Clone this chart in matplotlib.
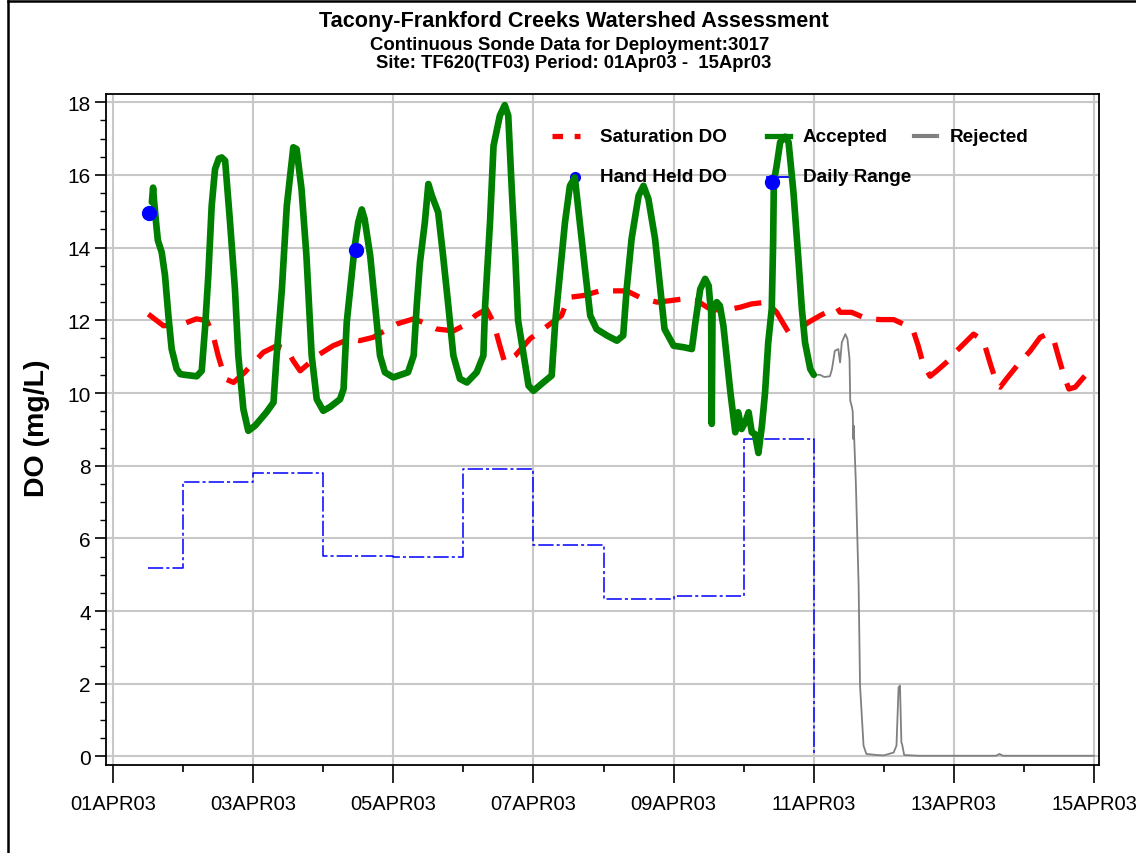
import matplotlib
matplotlib.use("Agg")
import matplotlib.pyplot as plt
from matplotlib.lines import Line2D
from matplotlib.ticker import MultipleLocator

plt.rcParams['font.family'] = ['Liberation Sans', 'DejaVu Sans']

# ---------------- data (days since 01APR03 00:00) ----------------
acc_days = [0.555, 0.572, 0.585, 0.614, 0.64, 0.695, 0.742, 0.79, 0.837, 0.908, 0.96, 1.027, 1.194,
            1.266, 1.312, 1.36, 1.408, 1.456, 1.51, 1.551, 1.6, 1.67, 1.74, 1.788, 1.86, 1.93, 2.027,
            2.19, 2.29, 2.335, 2.41, 2.48, 2.573, 2.62, 2.69, 2.76, 2.835, 2.907, 3.0, 3.1, 3.24,
            3.29, 3.335, 3.41, 3.45, 3.50, 3.55, 3.59, 3.67, 3.74, 3.81, 3.88, 4.0, 4.21, 4.29,
            4.334, 4.38, 4.45, 4.50, 4.55, 4.64, 4.71, 4.785, 4.857, 4.95, 5.05, 5.19, 5.285,
            5.31, 5.38, 5.43, 5.52, 5.59, 5.64, 5.69, 5.74, 5.78, 5.86, 5.93, 6.0, 6.14, 6.26,
            6.31, 6.38, 6.45, 6.52, 6.59, 6.66, 6.74, 6.81, 6.90, 7.05, 7.19, 7.28, 7.33, 7.40,
            7.50, 7.57, 7.64, 7.735, 7.81, 7.87, 8.0, 8.14, 8.26, 8.31, 8.38, 8.45, 8.50, 8.52,
            8.535, 8.544, 8.555, 8.57, 8.615, 8.66, 8.71, 8.76, 8.81, 8.85, 8.88, 8.92, 8.97,
            9.02, 9.07, 9.115, 9.16, 9.21, 9.26, 9.305, 9.35, 9.40, 9.42, 9.43, 9.47, 9.52, 9.59,
            9.64, 9.71, 9.78, 9.83, 9.875, 9.95, 10.0]
acc_vals = [15.25, 15.65, 15.3, 14.7, 14.2, 13.87, 13.23, 12.13, 11.21, 10.66, 10.52, 10.50, 10.46,
            10.61, 11.76, 13.23, 15.15, 16.16, 16.45, 16.48, 16.39, 14.70, 12.86, 11.03, 9.56, 8.96, 9.10,
            9.47, 9.74, 11.03, 12.86, 15.15, 16.76, 16.71, 15.61, 13.78, 11.03, 9.83, 9.51, 9.62, 9.83,
            10.11, 11.94, 13.32, 14.05, 14.70, 15.05, 14.79, 13.78, 12.40, 11.03, 10.57, 10.43, 10.57, 11.03,
            12.40, 13.59, 14.70, 15.75, 15.43, 14.97, 13.78, 12.40, 11.03, 10.39, 10.29, 10.57, 11.03,
            12.40, 14.70, 16.80, 17.63, 17.92, 17.63, 15.61, 13.78, 12.0, 11.03, 10.20, 10.06, 10.29, 10.48,
            11.94, 13.32, 14.70, 15.70, 15.93, 14.70, 13.32, 12.13, 11.76, 11.58, 11.44, 11.58, 12.86, 14.24,
            15.43, 15.70, 15.34, 14.24, 12.86, 11.76, 11.30, 11.26, 11.21, 11.94, 12.86, 13.14, 12.95, 12.50,
            12.4, 9.15, 12.3, 12.31, 12.50, 12.40, 11.85, 10.94, 10.02, 9.38, 8.92, 9.47, 9.01,
            9.19, 9.47, 8.92, 8.87, 8.35, 9.10, 10.02, 11.39, 12.31, 14.15, 15.80, 16.25, 16.90, 17.05,
            16.90, 15.52, 13.69, 12.31, 11.39, 10.66, 10.50]

rej_days = [10.0, 10.09, 10.15, 10.23, 10.26, 10.30, 10.35, 10.375, 10.40, 10.45, 10.48, 10.51, 10.52,
            10.54, 10.555, 10.565, 10.57, 10.60, 10.64, 10.66, 10.71, 10.75, 10.90, 11.0, 11.14, 11.18,
            11.21, 11.23, 11.25, 11.26, 11.29, 11.5, 12.0, 12.6, 12.65, 12.7, 13.0, 14.0]
rej_vals = [10.50, 10.50, 10.44, 10.46, 10.66, 11.16, 11.21, 10.84, 11.39, 11.62, 11.49, 10.94, 9.79,
            9.65, 9.5, 8.73, 9.10, 7.54, 4.70, 1.95, 0.30, 0.07, 0.04, 0.03, 0.11, 0.30,
            1.90, 1.95, 0.39, 0.34, 0.04, 0.02, 0.02, 0.02, 0.07, 0.02, 0.02, 0.02]

sat_days = [0.504, 0.72, 1.0, 1.19, 1.34, 1.43, 1.50, 1.6, 1.72, 1.88, 2.145, 2.335, 2.48, 2.57, 2.67,
            2.81, 2.95, 3.14, 3.38, 3.52, 3.71, 4.05, 4.29, 4.48, 4.62, 4.86, 5.05, 5.17, 5.33, 5.43,
            5.52, 5.59, 5.74, 5.95, 6.14, 6.40, 6.50, 6.71, 6.95, 7.33, 7.52, 7.76, 7.95, 8.14, 8.33,
            8.52, 8.71, 8.95, 9.11, 9.33, 9.47, 9.54, 9.64, 9.76, 9.92, 10.09, 10.33, 10.375, 10.54,
            10.76, 10.95, 11.14, 11.33, 11.42, 11.49, 11.56, 11.66, 11.755, 11.92, 12.04, 12.28, 12.42,
            12.52, 12.62, 12.66, 12.75, 12.90, 13.09, 13.23, 13.33, 13.42, 13.50, 13.57, 13.64, 13.73,
            13.85, 14.0]
sat_vals = [12.17, 11.85, 11.90, 12.04, 11.99, 11.58, 11.03, 10.39, 10.29, 10.57, 11.12, 11.30, 11.21, 10.89, 10.61,
            10.84, 11.07, 11.30, 11.49, 11.44, 11.53, 11.90, 12.04, 11.90, 11.76, 11.71, 11.90, 12.13, 12.31, 11.94,
            11.30, 10.84, 11.03, 11.49, 11.76, 12.13, 12.63, 12.68, 12.81, 12.81, 12.63, 12.50, 12.54, 12.59, 12.54,
            12.31, 12.27, 12.36, 12.45, 12.50, 12.22, 11.99, 11.67, 11.71, 11.94, 12.13, 12.36, 12.22, 12.22,
            12.04, 12.02, 12.02, 11.85, 11.71, 11.30, 10.80, 10.46, 10.61, 10.89, 11.16, 11.62, 11.44,
            10.80, 10.20, 10.16, 10.39, 10.75, 11.16, 11.53, 11.62, 11.49, 10.94, 10.48, 10.11, 10.16,
            10.43, 10.73]

range_days = [0.5, 1, 2, 3, 4, 5, 6, 7, 8, 9, 10]
range_vals = [5.18, 7.55, 7.80, 5.52, 5.48, 7.90, 5.83, 4.33, 4.42, 8.73, 0.0]

hand_days = [0.51, 3.47, 9.41]
hand_vals = [14.95, 13.93, 15.80]

xtick_days = [0, 2, 4, 6, 8, 10, 12, 14]
xtick_labels = ['01APR03', '03APR03', '05APR03', '07APR03', '09APR03', '11APR03', '13APR03', '15APR03']
ytick_vals = [0, 2, 4, 6, 8, 10, 12, 14, 16, 18]

# ---------------- figure ----------------
W, H = 1136, 854
fig = plt.figure(figsize=(W / 100, H / 100), dpi=100)
ax = fig.add_axes([106 / W, 1 - 766 / H, (1099 - 106) / W, (766 - 95) / H])

ax.grid(True, which='major', color='#c8c8c8', linewidth=1.5, zorder=0)
ax.set_axisbelow(True)

ax.plot(sat_days, sat_vals, color='#ff0000', linewidth=3.8, linestyle=(0, (5.2, 2.8)), zorder=3)
ax.step(range_days, range_vals, where='post', color='#0000ff', linewidth=1.1,
        linestyle=(0, (10, 2, 2, 2)), zorder=3)
ax.plot(rej_days, rej_vals, color='#808080', linewidth=1.3, zorder=3)
ax.plot(acc_days, acc_vals, color='#008000', linewidth=4.8, solid_joinstyle='round',
        solid_capstyle='round', zorder=4)
ax.plot(hand_days, hand_vals, linestyle='none', marker='o', markersize=10,
        color='#0000ff', zorder=5)

ax.set_xlim(-0.1, 14.07)
ax.set_ylim(-0.234, 18.226)
ax.set_xticks(xtick_days)
ax.set_xticklabels(xtick_labels)
ax.xaxis.set_minor_locator(MultipleLocator(1))
ax.set_yticks(ytick_vals)
ax.set_yticklabels([str(v) for v in ytick_vals])
ax.yaxis.set_minor_locator(MultipleLocator(0.5))

ax.tick_params(axis='x', which='major', length=13, width=1.2, direction='out', labelsize=14.5, pad=8)
ax.tick_params(axis='x', which='minor', length=5, width=1.2, direction='out')
ax.tick_params(axis='y', which='major', length=8, width=1.2, direction='out', labelsize=15, pad=3)
ax.tick_params(axis='y', which='minor', length=4, width=1.0, direction='out')
for s in ax.spines.values():
    s.set_linewidth(1.3)
    s.set_color('black')

# ---------------- legend (manual, drawn under data) ----------------
tr = ax.transAxes
def fx(px):
    return (px - 106) / (1099 - 106)
def fy(py):
    return (766 - py) / (766 - 95)
r1, r2 = fy(137), fy(178)
ax.add_line(Line2D([fx(552), fx(580)], [r1, r1], transform=tr, color='#ff0000', linewidth=3.8,
                   linestyle=(0, (2.0, 2.2)), zorder=1))
ax.add_line(Line2D([fx(767), fx(790)], [r1, r1], transform=tr, color='#008000', linewidth=3.8, zorder=1))
ax.add_line(Line2D([fx(914), fx(937)], [r1, r1], transform=tr, color='#808080', linewidth=3.0, zorder=1))
ax.add_line(Line2D([fx(575)], [r2], transform=tr, marker='o', markersize=7, color='#0000ff',
                   linestyle='none', zorder=1))
ax.add_line(Line2D([fx(767), fx(790)], [r2, r2], transform=tr, color='#0000ff', linewidth=1.3, zorder=1))
lk = dict(transform=tr, fontsize=13.6, fontweight='bold', va='center', ha='left', zorder=1)
ax.text(fx(600), r1, 'Saturation DO', **lk)
ax.text(fx(600), r2, 'Hand Held DO', **lk)
ax.text(fx(803), r1, 'Accepted', **lk)
ax.text(fx(803), r2, 'Daily Range', **lk)
ax.text(fx(950), r1, 'Rejected', **lk)

# ---------------- titles & labels ----------------
fig.text(574 / W, 1 - 21 / H, 'Tacony-Frankford Creeks Watershed Assessment', ha='center', va='center',
         fontsize=15.6, fontweight='bold')
fig.text(570 / W, 1 - 45 / H, 'Continuous Sonde Data for Deployment:3017', ha='center', va='center',
         fontsize=13.4, fontweight='bold')
fig.text(574 / W, 1 - 64 / H, 'Site: TF620(TF03) Period: 01Apr03 -  15Apr03', ha='center', va='center',
         fontsize=13.3, fontweight='bold')
fig.text(37 / W, 1 - 428 / H, 'DO (mg/L)', rotation=90, ha='center', va='center',
         fontsize=20.5, fontweight='bold')

# figure frame lines (left and top)
fig.add_artist(Line2D([8 / W, 8 / W], [0, 1 - 2 / H], transform=fig.transFigure, color='black', linewidth=1.8))
fig.add_artist(Line2D([8 / W, 1], [1 - 2 / H, 1 - 2 / H], transform=fig.transFigure, color='black', linewidth=1.8))

fig.savefig('out.png', dpi=100)
